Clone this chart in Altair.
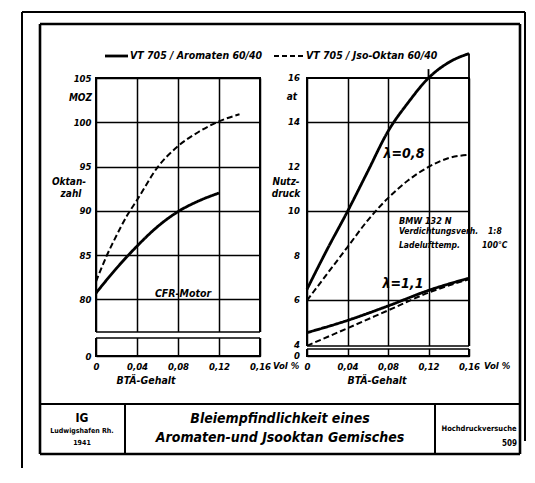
import altair as alt
import pandas as pd

# ---------------- data ----------------
# left panel: Oktanzahl (MOZ) vs BTÄ-Gehalt (Vol %)
bta_aro_left = [0.0, 0.02, 0.04, 0.06, 0.08, 0.10, 0.12]
oz_aro_left = [80.7, 83.5, 86.0, 88.2, 89.9, 91.1, 92.0]
bta_iso_left = [0.0, 0.01, 0.02, 0.03, 0.04, 0.06, 0.08, 0.10, 0.12, 0.14]
oz_iso_left = [82.0, 84.8, 87.2, 89.4, 91.2, 94.9, 97.3, 98.9, 100.1, 100.9]

# right panel: Nutzdruck (at) vs BTÄ-Gehalt
bta_r08 = [0.0, 0.02, 0.04, 0.06, 0.08, 0.10, 0.12, 0.14, 0.16]
nd_aro_08 = [6.5, 8.3, 10.0, 11.8, 13.6, 14.9, 16.0, 16.7, 17.1]
nd_iso_08 = [6.0, 7.2, 8.4, 9.6, 10.6, 11.4, 12.0, 12.4, 12.55]
bta_r11 = [0.0, 0.04, 0.08, 0.12, 0.16]
nd_aro_11 = [4.55, 5.1, 5.75, 6.45, 7.0]
nd_iso_11 = [3.96, 4.75, 5.55, 6.35, 6.95]

# border extension above the right plot (x, top value)
ext_x = [0.12, 0.16]
ext_top = [16.4, 17.1]

x_ticks = [0, 0.04, 0.08, 0.12, 0.16]
y_ticks_left = [0, 80, 85, 90, 95, 100, 105]
y_ticks_right = [0, 4, 6, 8, 10, 12, 14, 16]
series = ["Aromaten", "Jso-Oktan"]
legend_labels = ["VT 705 / Aromaten 60/40", "VT 705 / Jso-Oktan 60/40"]

# ---------------- tables ----------------
df_left = pd.concat([
    pd.DataFrame({"bta": bta_aro_left, "val": oz_aro_left, "typ": series[0], "grp": "a"}),
    pd.DataFrame({"bta": bta_iso_left, "val": oz_iso_left, "typ": series[1], "grp": "b"}),
])
df_right = pd.concat([
    pd.DataFrame({"bta": bta_r08, "val": nd_aro_08, "typ": series[0], "grp": "a08"}),
    pd.DataFrame({"bta": bta_r08, "val": nd_iso_08, "typ": series[1], "grp": "i08"}),
    pd.DataFrame({"bta": bta_r11, "val": nd_aro_11, "typ": series[0], "grp": "a11"}),
    pd.DataFrame({"bta": bta_r11, "val": nd_iso_11, "typ": series[1], "grp": "i11"}),
])
df_ext = pd.DataFrame({"bta": ext_x, "val": [16, 16], "hi": ext_top})
df_rticks = pd.DataFrame({"val": y_ticks_right})

FONT = "DejaVu Sans Condensed, Liberation Sans Narrow, Liberation Sans, sans-serif"
W_L, W_R, H = 164, 162, 278
one = pd.DataFrame({"k": [0]})

label_expr = "datum.value == 0 ? '0' : replace(format(datum.value, '.2f'), '.', ',')"


def txt(s, x, y, size=10, align="center", weight="bold", style="italic"):
    return alt.Chart(one).mark_text(
        text=s, font=FONT, fontSize=size, fontWeight=weight, fontStyle=style,
        align=align, baseline="middle", color="black"
    ).encode(x=alt.value(x), y=alt.value(y))


def hline(x1, x2, y, w=1.5, dash=None):
    kw = dict(color="black", strokeWidth=w)
    if dash:
        kw["strokeDash"] = dash
    return alt.Chart(one).mark_rule(**kw).encode(x=alt.value(x1), x2=alt.value(x2), y=alt.value(y))


def vline(x, y1, y2, w=1.5):
    return alt.Chart(one).mark_rule(color="black", strokeWidth=w).encode(
        x=alt.value(x), y=alt.value(y1), y2=alt.value(y2))


dash_enc = alt.StrokeDash("typ:N", scale=alt.Scale(domain=series, range=[[1, 0], [6, 3]]), legend=None)
width_enc = alt.StrokeWidth("typ:N", scale=alt.Scale(domain=series, range=[2.8, 2.0]), legend=None)

x_axis = alt.Axis(values=x_ticks, labelExpr=label_expr, title=None, labelFlush=False,
                  labelOverlap=False, labelPadding=5)
x_scale = alt.Scale(domain=[0, 0.16], nice=False, zero=False)

# ---------------- left panel ----------------
xl = alt.X("bta:Q", scale=x_scale, axis=x_axis)
yl = alt.Y("val:Q", scale=alt.Scale(domain=[0, 76.3, 105], range=[H, 254, 0], nice=False, zero=False),
           axis=alt.Axis(values=y_ticks_left, title=None, labelPadding=5, labelOverlap=False))

left_lines = alt.Chart(df_left).mark_line(interpolate="monotone", color="black").encode(
    x=xl, y=yl, detail="grp:N", strokeDash=dash_enc, strokeWidth=width_enc)
left_break = alt.Chart(one).mark_rect(color="white").encode(
    x=alt.value(-3), x2=alt.value(W_L + 3), y=alt.datum(57.2), y2=alt.datum(76.3))
left_b1 = alt.Chart(one).mark_rule(color="black", strokeWidth=1.5).encode(
    x=alt.value(0), x2=alt.value(W_L), y=alt.datum(76.3))
left_b2 = alt.Chart(one).mark_rule(color="black", strokeWidth=1.5).encode(
    x=alt.value(0), x2=alt.value(W_L), y=alt.datum(57.2))

# decorations relative to left plot origin (page 94, 77)
deco = [
    # outer thin frame
    vline(-74, -66, 390, 2.0), hline(-74, 429, -66, 2.0), vline(429, -66, 363, 2.0),
    # inner thick frame
    vline(-56, -54, 376, 2.6), vline(424, -54, 376, 2.6),
    hline(-56, 424, -54, 2.6), hline(-56, 424, 376, 2.6),
    # title block
    hline(-56, 424, 326, 2.2), vline(29, 326, 376, 2.0), vline(339, 326, 376, 2.0),
    # legend
    hline(9, 32, -22, 2.8), hline(178, 208, -22, 2.0, [5, 3]),
    txt(legend_labels[0], 34, -22, 10.5, "left"),
    txt(legend_labels[1], 210, -22, 10.5, "left"),
    # axis annotations
    txt("MOZ", -4, 20, 10, "right"),
    txt("Oktan-", -27, 104, 10), txt("zahl", -25, 116, 10),
    txt("CFR-Motor", 87, 216, 10.5),
    txt("BTÄ-Gehalt", 50, 303, 10.5),
    txt("Vol %", 177, 288, 9.5, "left"),
    # title block texts
    txt("IG", -14, 340, 12, "center", "bold", "normal"),
    txt("Ludwigshafen Rh.", -14, 353, 7, "center", "bold", "normal"),
    txt("1941", -14, 365, 7, "center", "bold", "normal"),
    txt("Bleiempfindlichkeit eines", 184, 341, 14),
    txt("Aromaten-und Jsooktan Gemisches", 184, 360, 14),
    txt("Hochdruckversuche", 383, 351, 7.5, "center", "bold", "normal"),
    txt("509", 421, 366, 8, "right", "bold", "normal"),
]

left = alt.layer(left_lines, left_break, left_b1, left_b2, *deco).properties(width=W_L, height=H)

# ---------------- right panel ----------------
yr_scale = alt.Scale(domain=[0, 3.95, 16], range=[H, 268, 0], nice=False, zero=False)
yr_axis = alt.Axis(values=y_ticks_right, title=None, labels=False)
xr = alt.X("bta:Q", scale=x_scale, axis=x_axis)
yr = alt.Y("val:Q", scale=yr_scale, axis=yr_axis)

right_lines = alt.Chart(df_right).mark_line(interpolate="monotone", color="black").encode(
    x=xr, y=yr, detail="grp:N", strokeDash=dash_enc, strokeWidth=width_enc)
right_ext = alt.Chart(df_ext).mark_rule(color="black", strokeWidth=1.8).encode(
    x=xr, y=yr, y2="hi:Q")
right_break = alt.Chart(one).mark_rect(color="white").encode(
    x=alt.value(-3), x2=alt.value(W_R + 3), y=alt.datum(2.765), y2=alt.datum(3.95))
right_b1 = alt.Chart(one).mark_rule(color="black", strokeWidth=1.5).encode(
    x=alt.value(0), x2=alt.value(W_R), y=alt.datum(3.95))
right_b2 = alt.Chart(one).mark_rule(color="black", strokeWidth=1.5).encode(
    x=alt.value(0), x2=alt.value(W_R), y=alt.datum(2.765))
right_ticklabels = alt.Chart(df_rticks).mark_text(
    font=FONT, fontSize=9.5, fontWeight="bold", fontStyle="italic", align="right",
    baseline="middle", color="black"
).encode(x=alt.value(-7), y=yr, text="val:Q")

right_txt = [
    txt("at", -10, 19, 10, "right"),
    txt("Nutz-", -21, 104, 10), txt("druck", -21, 116, 10),
    txt("λ=0,8", 97, 76, 14),
    txt("λ=1,1", 96, 206, 14),
    txt("BMW 132 N", 92, 143, 9, "left"),
    txt("Verdichtungsverh.", 92, 153, 8.5, "left"), txt("1:8", 181, 153, 8.5, "left"),
    txt("Ladelufttemp.", 92, 167, 8.5, "left"), txt("100°C", 175, 167, 8.5, "left"),
    txt("BTÄ-Gehalt", 70, 303, 10.5),
    txt("Vol %", 177, 288, 9.5, "left"),
]

right = alt.layer(right_lines, right_ext, right_break, right_b1, right_b2, right_ticklabels,
                  *right_txt).properties(width=W_R, height=H)

chart = alt.hconcat(left, right, spacing=47, bounds="flush").properties(
    padding={"left": 12, "top": 2, "right": 0, "bottom": 0},
    background="white",
).configure_view(stroke="black", strokeWidth=2).configure_axis(
    grid=True, gridColor="black", gridWidth=1.5, gridOpacity=1,
    domain=False, ticks=False, labelOverlap=False,
    labelFont=FONT, labelFontSize=9.5, labelFontWeight="bold", labelFontStyle="italic",
    labelColor="black",
)

chart.save("out.html", embed_options={"renderer": "svg", "actions": False})
